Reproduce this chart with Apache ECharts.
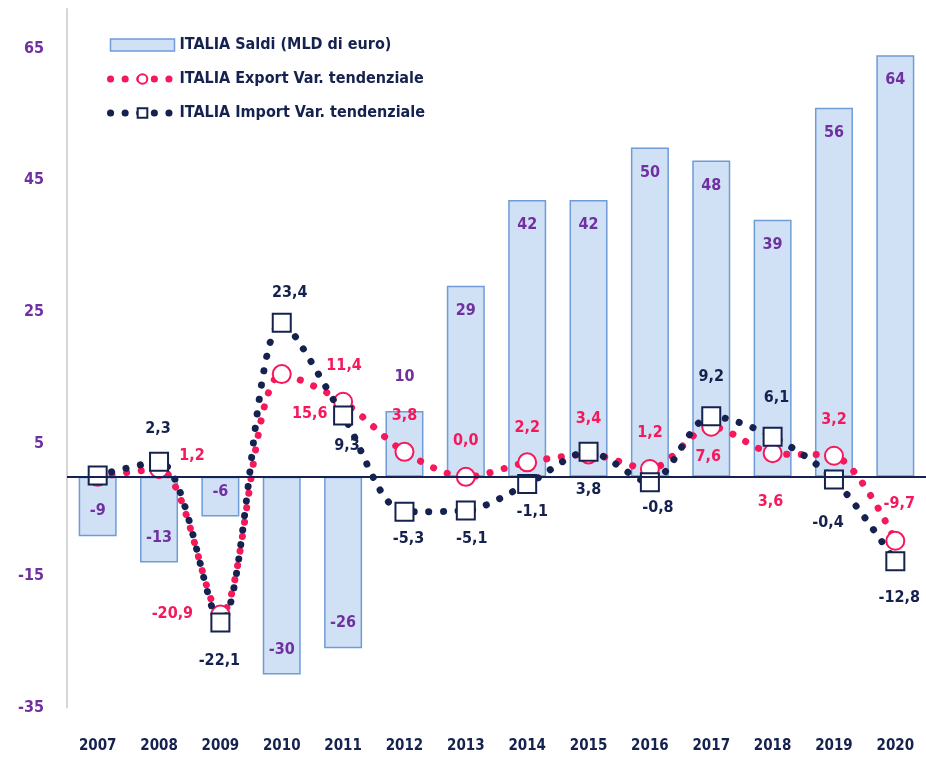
<!DOCTYPE html>
<html>
<head>
<meta charset="utf-8">
<script src="https://cdn.jsdelivr.net/npm/echarts@6/dist/echarts.min.js"></script>
<style>
  html, body { margin: 0; padding: 0; background: #ffffff; }
  #chart { width: 926px; height: 757px; }
</style>
</head>
<body>
<div id="chart"></div>
<script>
// Categories and series values
const years = ['2007', '2008', '2009', '2010', '2011', '2012', '2013', '2014', '2015', '2016', '2017', '2018', '2019', '2020'];
const saldi = [-9, -13, -6, -30, -26, 10, 29, 42, 42, 50, 48, 39, 56, 64];
const exportVar = [0.0, 1.2, -20.9, 15.6, 11.4, 3.8, 0.0, 2.2, 3.4, 1.2, 7.6, 3.6, 3.2, -9.7];
const importVar = [0.2, 2.3, -22.1, 23.4, 9.3, -5.3, -5.1, -1.1, 3.8, -0.8, 9.2, 6.1, -0.4, -12.8];

const NAVY = '#15224f';
const PINK = '#f5185a';
const PURPLE = '#7030a0';
const FONT = 'DejaVu Sans Condensed';

// Label placement for each point: [dx, dy] from the marker centre, null = no label
const exportLabelOffsets = [null, [33, -13], [-48, -1], [28, 40], [1, -36], [0, -36], [0, -36], [0, -35], [0, -36], [0, -36], [-3, 30], [-2, 49], [0, -36], [4, -37]];
const importLabelOffsets = [null, [-1, -33], [-1, 38], [8, -30], [4, 30], [4, 27], [6, 28], [5, 28], [0, 38], [8, 26], [0, -39], [4, -39], [-6, 43], [4, 37]];

const fmt = v => v.toFixed(1).replace('.', ',');

function lineData(values, offsets, color) {
  return values.map((v, i) => {
    const off = offsets[i];
    if (!off) return { value: v, label: { show: false } };
    return {
      value: v,
      label: {
        show: true,
        position: 'inside',
        offset: off,
        color: color,
        fontFamily: FONT,
        fontWeight: 'bold',
        fontSize: 16,
        formatter: p => fmt(p.value)
      }
    };
  });
}

const barData = saldi.map((v, i) => {
  let pos = v >= 0 ? 'insideTop' : 'insideBottom';
  let dist = 17;
  if (i === 5) { pos = 'top'; dist = 26; }
  return { value: v, label: { position: pos, distance: dist } };
});

const dotted = color => ({ color: color, width: 7, type: [0.1, 14.5], cap: 'round' });

const chart = echarts.init(document.getElementById('chart'), null, { renderer: 'canvas' });

chart.setOption({
  backgroundColor: '#ffffff',
  animation: false,
  grid: { left: 67, top: 9, width: 870, height: 698.5, containLabel: false },
  legend: {
    orient: 'vertical',
    left: 102,
    top: 32,
    itemWidth: 64,
    itemHeight: 12,
    itemGap: 18,
    textStyle: { color: NAVY, fontFamily: FONT, fontWeight: 'bold', fontSize: 16, lineHeight: 16 },
    data: [
      { name: 'ITALIA Saldi (MLD di euro)', icon: 'rect', itemStyle: { borderWidth: 1.5 } },
      { name: 'ITALIA Export Var. tendenziale', lineStyle: dotted(PINK) },
      { name: 'ITALIA Import Var. tendenziale', lineStyle: dotted(NAVY) }
    ]
  },
  xAxis: {
    type: 'category',
    data: years,
    boundaryGap: true,
    axisLine: { show: false, onZero: false },
    axisTick: { show: false },
    axisLabel: { color: NAVY, fontFamily: FONT, fontWeight: 'bold', fontSize: 15, margin: 31 },
    splitLine: { show: false }
  },
  yAxis: {
    type: 'value',
    min: -35,
    max: 71,
    interval: 20,
    axisLine: { show: true, lineStyle: { color: '#d6d6d6', width: 2 } },
    axisTick: { show: false },
    splitLine: { show: false },
    axisLabel: {
      showMaxLabel: false,
      color: PURPLE, fontFamily: FONT, fontWeight: 'bold', fontSize: 16, margin: 23
    }
  },
  series: [
    {
      name: 'ITALIA Saldi (MLD di euro)',
      type: 'bar',
      data: barData,
      barWidth: 38,
      itemStyle: { color: '#d0e1f6', borderColor: '#6f9bd6', borderWidth: 1.5 },
      label: {
        show: true,
        color: PURPLE,
        fontFamily: FONT,
        fontWeight: 'bold',
        fontSize: 16
      },
      markLine: {
        silent: true,
        symbol: 'none',
        label: { show: false },
        lineStyle: { color: NAVY, type: 'solid', width: 2 },
        data: [{ yAxis: 0 }]
      },
      z: 2
    },
    {
      name: 'ITALIA Export Var. tendenziale',
      type: 'line',
      data: lineData(exportVar, exportLabelOffsets, PINK),
      smooth: 0.3,
      symbol: 'circle',
      symbolSize: 18,
      itemStyle: { color: '#ffffff', borderColor: PINK, borderWidth: 2 },
      lineStyle: dotted(PINK),
      z: 3
    },
    {
      name: 'ITALIA Import Var. tendenziale',
      type: 'line',
      data: lineData(importVar, importLabelOffsets, NAVY),
      smooth: 0.3,
      symbol: 'rect',
      symbolSize: 18,
      itemStyle: { color: '#ffffff', borderColor: NAVY, borderWidth: 2 },
      lineStyle: dotted(NAVY),
      z: 4
    }
  ]
});
</script>
</body>
</html>
